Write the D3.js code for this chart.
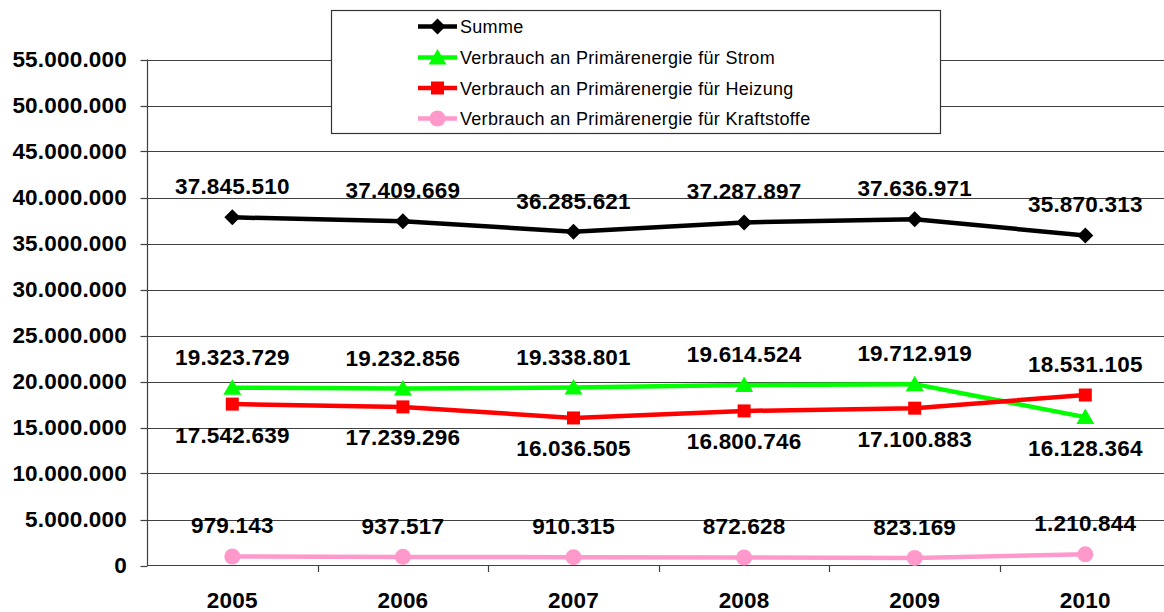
<!DOCTYPE html>
<html><head><meta charset="utf-8">
<script src="https://cdn.jsdelivr.net/npm/d3@7"></script>
<style>
body{margin:0;background:#fff;}
svg{display:block;}
text{font-family:Arial,"Liberation Sans",sans-serif;}
</style></head>
<body>
<svg id="chart" width="1164" height="612"></svg>
<script>
const years = ["2005","2006","2007","2008","2009","2010"];
const summe = [37845510, 37409669, 36285621, 37287897, 37636971, 35870313];
const strom = [19323729, 19232856, 19338801, 19614524, 19712919, 16128364];
const heizung = [17542639, 17239296, 16036505, 16800746, 17100883, 18531105];
const kraftstoffe = [979143, 937517, 910315, 872628, 823169, 1210844];
const seriesNames = ["Summe", "Verbrauch an Primärenergie für Strom", "Verbrauch an Primärenergie für Heizung", "Verbrauch an Primärenergie für Kraftstoffe"];
const yTicks = [0,5000000,10000000,15000000,20000000,25000000,30000000,35000000,40000000,45000000,50000000,55000000];

const loc = d3.formatLocale({decimal:",", thousands:".", grouping:[3], currency:["","€"]});
const fmt = loc.format(",d");

const svg = d3.select("#chart");
const x = d3.scaleBand().domain(years).range([147, 1170.6]).padding(0);
const y = d3.scaleLinear().domain([0, 55000000]).range([565.5, 59.5]);
const cx = d => x(d) + x.bandwidth()/2;
const axisCol = "#404040";
const FS = 22.5, LS = "0.2px";

// gridlines
svg.append("g").selectAll("line").data(yTicks.filter(t=>t>0)).join("line")
  .attr("x1",147).attr("x2",1164).attr("y1",d=>Math.round(y(d))+0.5).attr("y2",d=>Math.round(y(d))+0.5)
  .attr("stroke",axisCol).attr("stroke-width",1.2);

// y axis
const ya = svg.append("g").attr("transform","translate(147.5,0)");
ya.append("line").attr("y1",y(55000000)).attr("y2",y(0)).attr("stroke",axisCol).attr("stroke-width",1.2);
ya.selectAll("line.t").data(yTicks).join("line").attr("class","t")
  .attr("x1",-7).attr("x2",0).attr("y1",d=>Math.round(y(d))+0.5).attr("y2",d=>Math.round(y(d))+0.5)
  .attr("stroke",axisCol).attr("stroke-width",1.2);
svg.append("g").selectAll("text").data(yTicks).join("text")
  .attr("x",127).attr("y",d=>y(d)+7.8).attr("text-anchor","end")
  .attr("font-size",FS).attr("font-weight","bold").attr("letter-spacing",LS)
  .text(d=>fmt(d));

// x axis
svg.append("line").attr("x1",147).attr("x2",1164).attr("y1",565.5).attr("y2",565.5).attr("stroke",axisCol).attr("stroke-width",1.2);
svg.append("g").selectAll("line").data(years.slice(1)).join("line")
  .attr("x1",d=>Math.round(x(d))+0.5).attr("x2",d=>Math.round(x(d))+0.5).attr("y1",565.5).attr("y2",572)
  .attr("stroke",axisCol).attr("stroke-width",1.2);
svg.append("g").selectAll("text").data(years).join("text")
  .attr("x",d=>cx(d)).attr("y",608).attr("text-anchor","middle")
  .attr("font-size",FS).attr("font-weight","bold").attr("letter-spacing",LS)
  .text(d=>d);

const series = [
  {name:seriesNames[0], vals:summe, color:"#000000", marker:"diamond"},
  {name:seriesNames[1], vals:strom, color:"#00FF00", marker:"triangle"},
  {name:seriesNames[2], vals:heizung, color:"#FF0000", marker:"square"},
  {name:seriesNames[3], vals:kraftstoffe, color:"#FF99CC", marker:"circle"}
];

function drawMarker(g, type, color, px, py){
  if(type==="diamond"){
    g.append("path").attr("d",`M${px},${py-8}L${px+8},${py}L${px},${py+8}L${px-8},${py}Z`).attr("fill",color);
  } else if(type==="triangle"){
    g.append("path").attr("d",`M${px},${py-8.5}L${px+9},${py+7}L${px-9},${py+7}Z`).attr("fill",color);
  } else if(type==="square"){
    g.append("rect").attr("x",px-6.5).attr("y",py-6.5).attr("width",13).attr("height",13).attr("fill",color);
  } else {
    g.append("circle").attr("cx",px).attr("cy",py).attr("r",8).attr("fill",color);
  }
}

const line = d3.line().x((d,i)=>cx(years[i])).y(d=>y(d));
series.forEach(s=>{
  const g = svg.append("g");
  g.append("path").datum(s.vals).attr("d",line).attr("fill","none").attr("stroke",s.color).attr("stroke-width",4.5).attr("stroke-linejoin","round");
  s.vals.forEach((v,i)=>drawMarker(g, s.marker, s.color, cx(years[i]), y(v)));
});

// data labels
function labelPos(si, i){
  const v = series[si].vals[i];
  if(si===1 || si===2){
    const other = series[si===1?2:1].vals[i];
    return v >= other ? y(v)-23 : y(v)+38.5;
  }
  return y(v)-23;
}
series.forEach((s,si)=>{
  svg.append("g").selectAll("text").data(s.vals).join("text")
    .attr("x",(d,i)=>cx(years[i])).attr("y",(d,i)=>labelPos(si,i))
    .attr("text-anchor","middle").attr("font-size",FS).attr("font-weight","bold").attr("letter-spacing",LS)
    .text(d=>fmt(d));
});

// legend
const lg = svg.append("g");
lg.append("rect").attr("x",331.5).attr("y",10.5).attr("width",609).attr("height",123)
  .attr("fill","#fff").attr("stroke","#333").attr("stroke-width",1.2);
const rowY = [26.5, 57.5, 88, 118.5];
series.forEach((s,i)=>{
  const yy = rowY[i];
  lg.append("line").attr("x1",418).attr("x2",457).attr("y1",yy).attr("y2",yy).attr("stroke",s.color).attr("stroke-width",4.5);
  drawMarker(lg, s.marker, s.color, 437.5, yy);
  lg.append("text").attr("x",460).attr("y",yy+6.5).attr("font-size",18).attr("letter-spacing","0.3px").text(s.name);
});
</script>
</body></html>
